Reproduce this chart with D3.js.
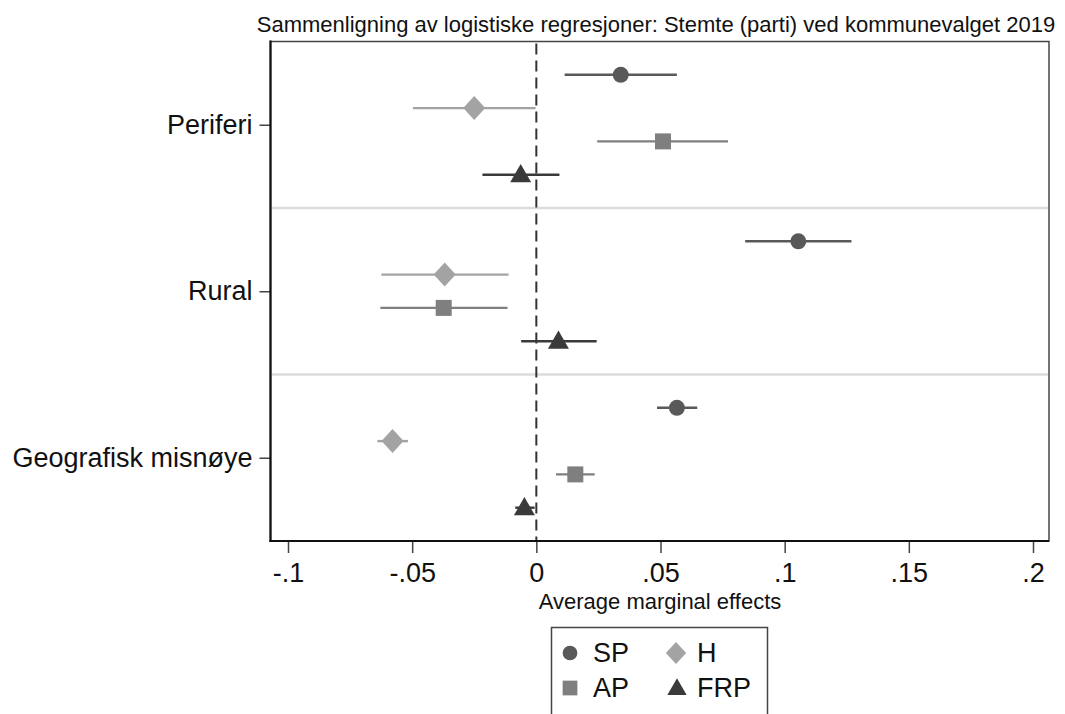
<!DOCTYPE html>
<html>
<head>
<meta charset="utf-8">
<script src="https://cdn.jsdelivr.net/npm/d3@7"></script>
<style>
  body { margin: 0; background: #fff; }
  svg { font-family: "Liberation Sans", Arial, sans-serif; }
</style>
</head>
<body>
<div id="chart"></div>
<script>
const width = 1065;
const height = 714;

// Data
const groups = ["Periferi", "Rural", "Geografisk misnøye"];
const parties = ["SP", "H", "AP", "FRP"];
const estimate = [
  [0.034, -0.025, 0.051, -0.0063],
  [0.1055, -0.0369, -0.0373, 0.0089],
  [0.0566, -0.0579, 0.0157, -0.0048]
];
const lower = [
  [0.0114, -0.0497, 0.0245, -0.0217],
  [0.0841, -0.0624, -0.0628, -0.0061],
  [0.0486, -0.064, 0.0079, -0.0085]
];
const upper = [
  [0.0566, -0.0003, 0.0772, 0.0093],
  [0.1269, -0.0112, -0.0116, 0.0243],
  [0.0648, -0.0517, 0.0235, -0.0007]
];
const xTicks = [-0.1, -0.05, 0, 0.05, 0.1, 0.15, 0.2];

const colors = { SP: "#595959", H: "#a3a3a3", AP: "#7f7f7f", FRP: "#3a3a3a" };

// wide diamond like Stata's
const wideDiamond = {
  draw(ctx, size) {
    const w = Math.sqrt(size) * 0.78, h = Math.sqrt(size) * 0.85;
    ctx.moveTo(0, -h); ctx.lineTo(w, 0); ctx.lineTo(0, h); ctx.lineTo(-w, 0); ctx.closePath();
  }
};
const shapes = { SP: d3.symbolCircle, H: wideDiamond, AP: d3.symbolSquare, FRP: d3.symbolTriangle };
const sizes = { SP: 200, H: 200, AP: 256, FRP: 190 };

// Build rows: 4 per group, one empty row between groups
const rows = [];
groups.forEach((g, gi) => {
  parties.forEach((p, pi) => {
    rows.push({
      group: g, party: p, row: gi * 5 + pi,
      b: estimate[gi][pi], lo: lower[gi][pi], hi: upper[gi][pi]
    });
  });
});

const svg = d3.select("#chart")
  .append("svg")
  .attr("width", width)
  .attr("height", height);

const x = d3.scaleLinear().domain([-0.1, 0.2]).range([288, 1033]);
const y = d3.scaleLinear().domain([-1, 14]).range([41.5, 541]);

const plotLeft = 270.5, plotRight = 1049, plotTop = 41.5, plotBottom = 541;

// Title
svg.append("text")
  .attr("x", 656)
  .attr("y", 32)
  .attr("text-anchor", "middle")
  .style("font-size", "22px")
  .style("fill", "#111")
  .text("Sammenligning av logistiske regresjoner: Stemte (parti) ved kommunevalget 2019");

// Plot region outline
svg.append("rect")
  .attr("x", plotLeft)
  .attr("y", plotTop)
  .attr("width", plotRight - plotLeft)
  .attr("height", plotBottom - plotTop)
  .attr("fill", "none")
  .attr("stroke", "#444")
  .attr("stroke-width", 1.5);

// Group separators
[4, 9].forEach(r => {
  svg.append("line")
    .attr("x1", plotLeft + 1).attr("x2", plotRight - 1)
    .attr("y1", y(r)).attr("y2", y(r))
    .attr("stroke", "#dcdcdc")
    .attr("stroke-width", 2.5);
});

// Zero reference line
svg.append("line")
  .attr("x1", x(0)).attr("x2", x(0))
  .attr("y1", plotTop + 2).attr("y2", plotBottom)
  .attr("stroke", "#333")
  .attr("stroke-width", 2)
  .attr("stroke-dasharray", "11,6");

// Confidence intervals
svg.selectAll(".ci")
  .data(rows)
  .enter()
  .append("line")
  .attr("class", "ci")
  .attr("x1", d => x(d.lo))
  .attr("x2", d => x(d.hi))
  .attr("y1", d => y(d.row))
  .attr("y2", d => y(d.row))
  .attr("stroke", d => colors[d.party])
  .attr("stroke-width", 2.4);

// Point estimates
svg.selectAll(".pt")
  .data(rows)
  .enter()
  .append("path")
  .attr("class", "pt")
  .attr("d", d => d3.symbol().type(shapes[d.party]).size(sizes[d.party])())
  .attr("transform", d => `translate(${x(d.b)},${y(d.row) + (d.party === "FRP" ? 1.5 : 0)})`)
  .attr("fill", d => colors[d.party]);

// X axis
const xAxis = svg.append("g")
  .attr("transform", `translate(0,${plotBottom})`)
  .call(d3.axisBottom(x)
    .tickValues(xTicks)
    .tickSize(12)
    .tickPadding(10)
    .tickFormat(d => d === 0 ? "0" : String(+d.toFixed(2)).replace("0.", ".")));
xAxis.select(".domain").remove();
xAxis.selectAll(".tick line").attr("stroke", "#444").attr("stroke-width", 1.5);
xAxis.selectAll(".tick text")
  .style("font-size", "27px")
  .style("font-family", "'Liberation Sans', Arial, sans-serif")
  .attr("fill", "#111");

svg.append("line")
  .attr("x1", plotLeft - 1).attr("x2", plotRight)
  .attr("y1", plotBottom).attr("y2", plotBottom)
  .attr("stroke", "#111").attr("stroke-width", 2.2);

svg.append("text")
  .attr("x", 660)
  .attr("y", 609)
  .attr("text-anchor", "middle")
  .style("font-size", "22px")
  .style("fill", "#111")
  .text("Average marginal effects");

// Y axis with group labels
const yAxis = svg.append("g")
  .attr("transform", `translate(${plotLeft},0)`)
  .call(d3.axisLeft(y)
    .tickValues([1.5, 6.5, 11.5])
    .tickSize(11)
    .tickPadding(7)
    .tickFormat((d, i) => groups[i]));
yAxis.select(".domain").remove();
yAxis.selectAll(".tick line").attr("stroke", "#444").attr("stroke-width", 1.5);
yAxis.selectAll(".tick text")
  .style("font-size", "27px")
  .style("font-family", "'Liberation Sans', Arial, sans-serif")
  .attr("fill", "#111");

svg.append("line")
  .attr("x1", plotLeft).attr("x2", plotLeft)
  .attr("y1", plotTop - 1).attr("y2", plotBottom + 1)
  .attr("stroke", "#111").attr("stroke-width", 2.2);

// Legend
const legend = svg.append("g");
legend.append("rect")
  .attr("x", 551.5).attr("y", 627.5)
  .attr("width", 216).attr("height", 100)
  .attr("fill", "#fff")
  .attr("stroke", "#444")
  .attr("stroke-width", 1.5);

const legendPos = [
  { party: "SP", mx: 570, tx: 593, y: 653 },
  { party: "H", mx: 676, tx: 697, y: 653 },
  { party: "AP", mx: 570, tx: 593, y: 688 },
  { party: "FRP", mx: 677, tx: 697, y: 688 }
];
legendPos.forEach(l => {
  legend.append("path")
    .attr("d", d3.symbol().type(shapes[l.party]).size(sizes[l.party] * 0.85)())
    .attr("transform", `translate(${l.mx},${l.y + (l.party === "FRP" ? 1.5 : 0)})`)
    .attr("fill", colors[l.party]);
  legend.append("text")
    .attr("x", l.tx)
    .attr("y", l.y)
    .attr("dy", "0.35em")
    .style("font-size", "27px")
    .style("fill", "#111")
    .text(l.party);
});
</script>
</body>
</html>
